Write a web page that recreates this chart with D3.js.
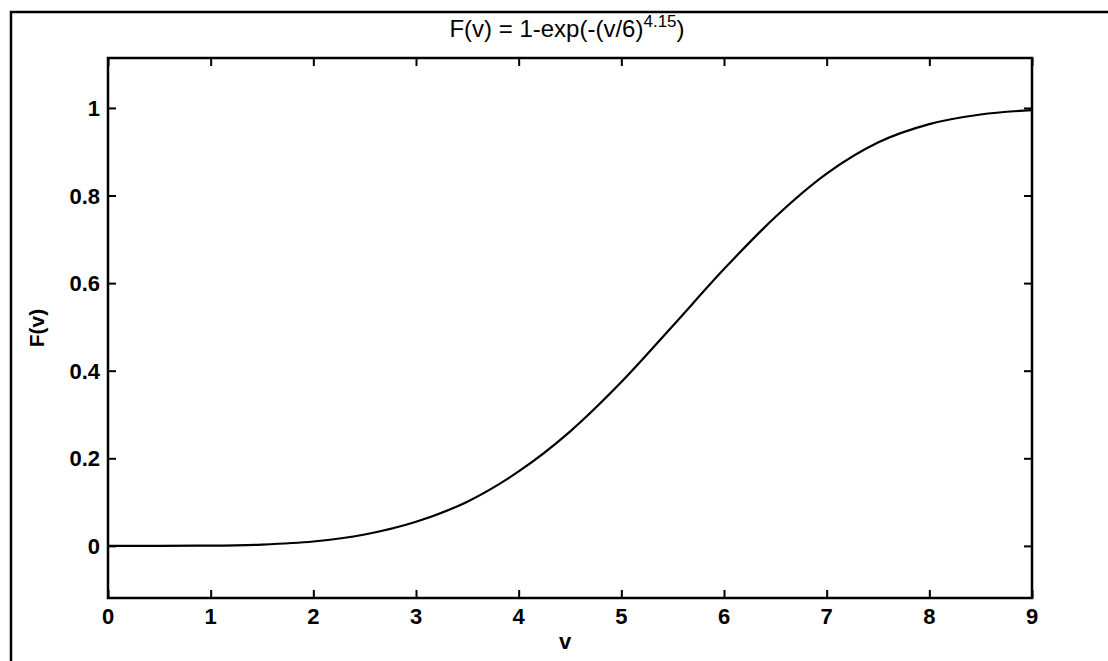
<!DOCTYPE html>
<html>
<head>
<meta charset="utf-8">
<script src="https://cdn.jsdelivr.net/npm/d3@7"></script>
<style>
  body { margin: 0; background: #fff; }
  svg { display: block; font-family: "Liberation Sans", Arial, sans-serif; }
</style>
</head>
<body>
<div id="my_dataviz"></div>
<script>
// values
var vValues = [0, 0.5, 1, 1.5, 2, 2.5, 3, 3.5, 4, 4.5, 5, 5.5, 6, 6.5, 7, 7.5, 8, 8.5, 9];
var fValues = [0, 0.0001, 0.0006, 0.003, 0.010, 0.026, 0.055, 0.101, 0.170, 0.261, 0.374, 0.502, 0.632, 0.751, 0.850, 0.921, 0.963, 0.985, 0.995];
var xTicks = [0, 1, 2, 3, 4, 5, 6, 7, 8, 9];
var yTicks = [0, 0.2, 0.4, 0.6, 0.8, 1];
var xDomain = [0, 9];
var yDomain = [-0.119, 1.114];

var W = 1108, H = 661;

var svg = d3.select("#my_dataviz")
  .append("svg")
  .attr("width", W)
  .attr("height", H);

// outer figure frame
svg.append("rect")
  .attr("x", 11).attr("y", 12)
  .attr("width", W + 20).attr("height", H + 20)
  .attr("fill", "#fff")
  .attr("stroke", "#000")
  .attr("stroke-width", 2.5);

var x = d3.scaleLinear()
  .domain(xDomain)
  .range([108, 1032]);
var y = d3.scaleLinear()
  .domain(yDomain)
  .range([598, 58]);

var boxL = x(xDomain[0]), boxR = x(xDomain[1]);
var boxT = y(yDomain[1]), boxB = y(yDomain[0]);

// axes box
svg.append("rect")
  .attr("x", boxL).attr("y", boxT)
  .attr("width", boxR - boxL).attr("height", boxB - boxT)
  .attr("fill", "#fff");

// inward ticks, MATLAB style, on all four sides
svg.append("g")
  .attr("transform", "translate(0," + boxB + ")")
  .call(d3.axisTop(x).tickValues(xTicks).tickSize(8).tickFormat(""))
  .call(function (g) { g.select(".domain").remove(); });
svg.append("g")
  .attr("transform", "translate(0," + boxT + ")")
  .call(d3.axisBottom(x).tickValues(xTicks).tickSize(8).tickFormat(""))
  .call(function (g) { g.select(".domain").remove(); });
svg.append("g")
  .attr("transform", "translate(" + boxL + ",0)")
  .call(d3.axisRight(y).tickValues(yTicks).tickSize(8).tickFormat(""))
  .call(function (g) { g.select(".domain").remove(); });
svg.append("g")
  .attr("transform", "translate(" + boxR + ",0)")
  .call(d3.axisLeft(y).tickValues(yTicks).tickSize(8).tickFormat(""))
  .call(function (g) { g.select(".domain").remove(); });
svg.selectAll(".tick line").attr("stroke", "#000").attr("stroke-width", 2);

// tick labels
svg.append("g").selectAll("text")
  .data(xTicks)
  .enter().append("text")
  .attr("x", function (d) { return x(d); })
  .attr("y", boxB + 26)
  .attr("text-anchor", "middle")
  .attr("font-size", 22)
  .attr("font-weight", "bold")
  .text(function (d) { return d; });

svg.append("g").selectAll("text")
  .data(yTicks)
  .enter().append("text")
  .attr("x", boxL - 8)
  .attr("y", function (d) { return y(d) + 8; })
  .attr("text-anchor", "end")
  .attr("font-size", 22)
  .attr("font-weight", "bold")
  .text(function (d) { return d; });

// the curve
var pts = vValues.map(function (v, i) { return { v: v, f: fValues[i] }; });
svg.append("path")
  .datum(pts)
  .attr("fill", "none")
  .attr("stroke", "#000")
  .attr("stroke-width", 2.2)
  .attr("d", d3.line()
    .curve(d3.curveMonotoneX)
    .x(function (d) { return x(d.v); })
    .y(function (d) { return y(d.f); })
  );

// box border on top
svg.append("rect")
  .attr("x", boxL).attr("y", boxT)
  .attr("width", boxR - boxL).attr("height", boxB - boxT)
  .attr("fill", "none")
  .attr("stroke", "#000")
  .attr("stroke-width", 2.5);

// title with superscript
var title = svg.append("text")
  .attr("x", (boxL + boxR) / 2 - 3)
  .attr("y", 37)
  .attr("text-anchor", "middle")
  .attr("font-size", 24);
title.append("tspan").text("F(v) = 1-exp(-(v/6)");
title.append("tspan").attr("dy", -10).attr("font-size", 17).text("4.15");
title.append("tspan").attr("dy", 10).text(")");

// axis labels
svg.append("text")
  .attr("x", 565)
  .attr("y", 649)
  .attr("text-anchor", "middle")
  .attr("font-size", 22)
  .attr("font-weight", "bold")
  .text("v");

svg.append("text")
  .attr("transform", "translate(44,328) rotate(-90)")
  .attr("text-anchor", "middle")
  .attr("font-size", 21)
  .attr("font-weight", "bold")
  .text("F(v)");
</script>
</body>
</html>
